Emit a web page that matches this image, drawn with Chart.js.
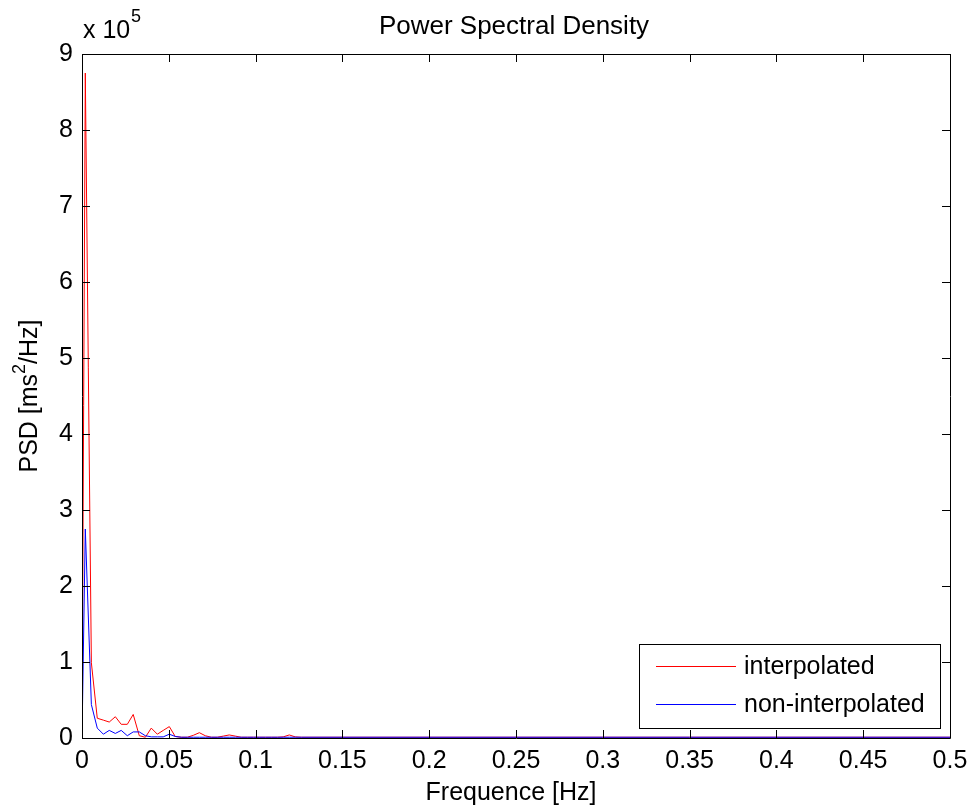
<!DOCTYPE html>
<html>
<head>
<meta charset="utf-8">
<script src="https://cdn.jsdelivr.net/npm/chart.js@4"></script>
<style>
  body { margin: 0; background: #fff; }
  canvas { display: block; }
</style>
</head>
<body>
<canvas id="psd" width="973" height="812"></canvas>
<script>
// frequencies [Hz]
var freqs = [0, 0.0019, 0.0054, 0.0088, 0.0123, 0.0157, 0.0192, 0.0226, 0.0261, 0.0295,
  0.0330, 0.0365, 0.0399, 0.0434, 0.0468, 0.0503, 0.0537, 0.0572, 0.0607, 0.0641,
  0.0676, 0.0710, 0.0745, 0.0779, 0.0814, 0.0848, 0.0883, 0.0917, 0.0952, 0.0987,
  0.1021, 0.1056, 0.1090, 0.1125, 0.1159, 0.1194, 0.1228, 0.1263, 0.15, 0.2,
  0.25, 0.3, 0.35, 0.4, 0.45, 0.5];
// PSD values in units of 10^5 ms^2/Hz
var psdInterp = [0, 8.75, 0.99, 0.26, 0.235, 0.21, 0.28, 0.18, 0.18, 0.31,
  0.03, 0.01, 0.13, 0.05, 0.10, 0.15, 0.02, 0.01, 0.01, 0.035,
  0.07, 0.03, 0.01, 0.01, 0.025, 0.04, 0.025, 0.01, 0.01, 0.01,
  0.01, 0.01, 0.01, 0.01, 0.015, 0.04, 0.015, 0.01, 0.01, 0.01,
  0.01, 0.01, 0.01, 0.01, 0.01, 0.01];
var psdNonInterp = [0, 2.75, 0.44, 0.13, 0.05, 0.10, 0.06, 0.10, 0.03, 0.08,
  0.08, 0.03, 0.015, 0.015, 0.015, 0.05, 0.02, 0.01, 0.01, 0.01,
  0.01, 0.01, 0.01, 0.01, 0.01, 0.01, 0.01, 0.01, 0.01, 0.01,
  0.01, 0.01, 0.01, 0.01, 0.01, 0.01, 0.01, 0.01, 0.01, 0.01,
  0.01, 0.01, 0.01, 0.01, 0.01, 0.01];
var seriesNames = ["interpolated", "non-interpolated"];
var xTickValues = [0, 0.05, 0.1, 0.15, 0.2, 0.25, 0.3, 0.35, 0.4, 0.45, 0.5];
var xTickLabels = ["0", "0.05", "0.1", "0.15", "0.2", "0.25", "0.3", "0.35", "0.4", "0.45", "0.5"];
var yTickValues = [0, 1, 2, 3, 4, 5, 6, 7, 8, 9];
var yTickLabels = ["0", "1", "2", "3", "4", "5", "6", "7", "8", "9"];

var FONT = "'Liberation Sans', Arial, sans-serif";

function pts(ys) {
  return freqs.map(function(f, i) { return { x: f, y: ys[i] }; });
}

// box, inward ticks, titles and legend the MATLAB way
var matlabDecor = {
  id: 'matlabDecor',
  afterDraw: function(chart) {
    var ctx = chart.ctx, a = chart.chartArea;
    var xs = chart.scales.x, ys = chart.scales.y;
    var tl = 8;
    ctx.save();
    ctx.strokeStyle = '#000';
    ctx.lineWidth = 1;
    ctx.beginPath();
    ctx.rect(Math.round(a.left) + 0.5, Math.round(a.top) + 0.5,
             Math.round(a.right - a.left), Math.round(a.bottom - a.top));
    xTickValues.forEach(function(v) {
      var px = Math.round(xs.getPixelForValue(v)) + 0.5;
      ctx.moveTo(px, a.bottom); ctx.lineTo(px, a.bottom - tl);
      ctx.moveTo(px, a.top); ctx.lineTo(px, a.top + tl);
    });
    yTickValues.forEach(function(v) {
      var py = Math.round(ys.getPixelForValue(v)) + 0.5;
      ctx.moveTo(a.left, py); ctx.lineTo(a.left + tl, py);
      ctx.moveTo(a.right, py); ctx.lineTo(a.right - tl, py);
    });
    ctx.stroke();

    ctx.fillStyle = '#000';
    // title
    ctx.font = '26px ' + FONT;
    ctx.textAlign = 'center';
    ctx.textBaseline = 'alphabetic';
    ctx.fillText('Power Spectral Density', (a.left + a.right) / 2 - 2, 34);
    // x label
    ctx.font = '25px ' + FONT;
    ctx.fillText('Frequence [Hz]', (a.left + a.right) / 2 - 5, 800);
    // exponent
    ctx.textAlign = 'left';
    ctx.fillText('x 10', 83, 38);
    ctx.font = '18px ' + FONT;
    ctx.fillText('5', 131, 22);
    // y label with superscript
    ctx.save();
    ctx.translate(37, (a.top + a.bottom) / 2);
    ctx.rotate(-Math.PI / 2);
    var p1 = 'PSD [ms', p2 = '2', p3 = '/Hz]';
    ctx.font = '25px ' + FONT;
    var w1 = ctx.measureText(p1).width, w3 = ctx.measureText(p3).width;
    ctx.font = '18px ' + FONT;
    var w2 = ctx.measureText(p2).width;
    var x0 = -(w1 + w2 + w3) / 2;
    ctx.font = '25px ' + FONT;
    ctx.fillText(p1, x0, 0);
    ctx.fillText(p3, x0 + w1 + w2, 0);
    ctx.font = '18px ' + FONT;
    ctx.fillText(p2, x0 + w1, -12);
    ctx.restore();

    // legend
    var lx = 639, ly = 644, lw = 301, lh = 84;
    ctx.fillStyle = '#fff';
    ctx.fillRect(lx, ly, lw, lh);
    ctx.strokeStyle = '#000';
    ctx.strokeRect(lx + 0.5, ly + 0.5, lw, lh);
    ctx.font = '25px ' + FONT;
    ctx.textBaseline = 'middle';
    chart.data.datasets.forEach(function(ds, i) {
      var yy = [666, 704][i];
      ctx.strokeStyle = ds.borderColor;
      ctx.beginPath();
      ctx.moveTo(656, yy + 0.5);
      ctx.lineTo(736, yy + 0.5);
      ctx.stroke();
      ctx.fillStyle = '#000';
      ctx.fillText(ds.label, 744, yy + 1);
    });
    ctx.restore();
  }
};

new Chart(document.getElementById('psd'), {
  type: 'line',
  data: {
    datasets: [{
      label: seriesNames[0],
      data: pts(psdInterp),
      borderColor: '#ff0000',
      borderWidth: 1,
      pointRadius: 0,
      tension: 0,
      order: 1
    }, {
      label: seriesNames[1],
      data: pts(psdNonInterp),
      borderColor: '#0000ff',
      borderWidth: 1,
      pointRadius: 0,
      tension: 0,
      order: 0
    }]
  },
  options: {
    responsive: false,
    animation: false,
    devicePixelRatio: 1,
    layout: { padding: { top: 54, right: 23, left: 0, bottom: 0 } },
    plugins: {
      legend: { display: false },
      tooltip: { enabled: false }
    },
    scales: {
      x: {
        type: 'linear',
        min: 0, max: 0.5,
        grid: { display: false, drawTicks: false },
        border: { display: false },
        afterFit: function(s) { s.height = 74; s.paddingLeft = 0; s.paddingRight = 0; },
        afterBuildTicks: function(s) { s.ticks = xTickValues.map(function(v) { return { value: v }; }); },
        ticks: {
          color: '#000',
          font: { family: FONT, size: 25 },
          padding: 8,
          maxRotation: 0,
          autoSkip: false,
          callback: function(v, i) { return xTickLabels[i]; }
        }
      },
      y: {
        type: 'linear',
        min: 0, max: 9,
        grid: { display: false, drawTicks: false },
        border: { display: false },
        afterFit: function(s) { s.width = 82; s.paddingTop = 0; s.paddingBottom = 0; },
        afterBuildTicks: function(s) { s.ticks = yTickValues.map(function(v) { return { value: v }; }); },
        ticks: {
          color: '#000',
          font: { family: FONT, size: 25 },
          padding: 9,
          autoSkip: false,
          callback: function(v, i) { return yTickLabels[i]; }
        }
      }
    }
  },
  plugins: [matlabDecor]
});
</script>
</body>
</html>
